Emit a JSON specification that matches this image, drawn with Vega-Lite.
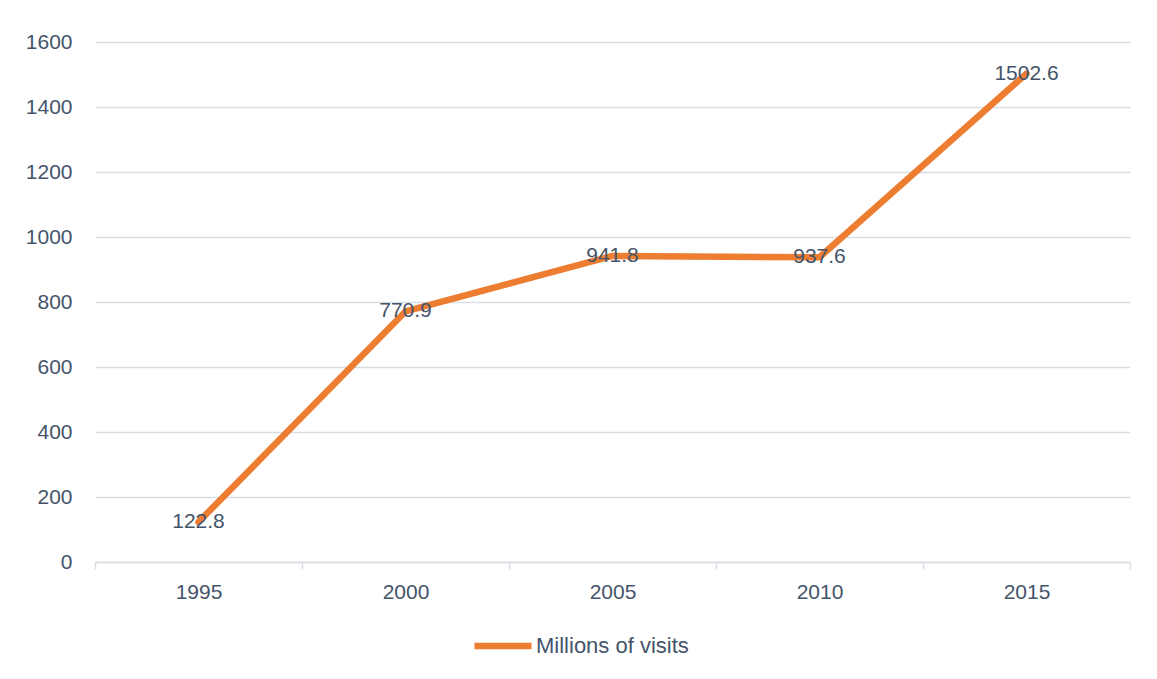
{
  "$schema": "https://vega.github.io/schema/vega-lite/v6.json",
  "width": 1035,
  "height": 520,
  "autosize": {"type": "none"},
  "padding": {"left": 95, "top": 42, "right": 27, "bottom": 117},
  "background": "#ffffff",
  "data": {
    "values": [
      {"year": "1995", "visits": 122.8, "series": "Millions of visits"},
      {"year": "2000", "visits": 770.9, "series": "Millions of visits"},
      {"year": "2005", "visits": 941.8, "series": "Millions of visits"},
      {"year": "2010", "visits": 937.6, "series": "Millions of visits"},
      {"year": "2015", "visits": 1502.6, "series": "Millions of visits"}
    ]
  },
  "config": {
    "view": {"stroke": null},
    "font": "Liberation Sans"
  },
  "encoding": {
    "x": {
      "field": "year",
      "type": "ordinal",
      "scale": {"paddingInner": 0, "paddingOuter": 0},
      "axis": {
        "title": null,
        "labelAngle": 0,
        "labelFontSize": 21,
        "labelColor": "#44546A",
        "labelPadding": 12,
        "tickBand": "extent",
        "ticks": true,
        "tickSize": 7,
        "tickColor": "#D9DEE5",
        "tickWidth": 1.5,
        "domainColor": "#D9DEE5",
        "domainWidth": 1.5,
        "grid": false
      }
    },
    "y": {
      "field": "visits",
      "type": "quantitative",
      "scale": {"domain": [0, 1600], "nice": false},
      "axis": {
        "title": null,
        "values": [0, 200, 400, 600, 800, 1000, 1200, 1400, 1600],
        "format": "d",
        "labelFontSize": 21,
        "labelColor": "#44546A",
        "labelPadding": 23,
        "ticks": false,
        "domain": false,
        "grid": true,
        "gridColor": "#D9DEE5",
        "gridWidth": 1.5
      }
    }
  },
  "layer": [
    {
      "mark": {"type": "line", "strokeWidth": 6.5, "strokeCap": "round", "strokeJoin": "round"},
      "encoding": {
        "color": {
          "field": "series",
          "type": "nominal",
          "scale": {"range": ["#ED7D31"]},
          "legend": {
            "title": null,
            "orient": "none",
            "legendX": 376,
            "legendY": 572,
            "symbolType": "stroke",
            "symbolSize": 3249,
            "symbolStrokeWidth": 6.5,
            "labelFontSize": 22,
            "labelColor": "#44546A",
            "labelOffset": 1,
            "padding": 0
          }
        }
      }
    },
    {
      "mark": {
        "type": "text",
        "align": "center",
        "baseline": "middle",
        "fontSize": 21,
        "color": "#44546A"
      },
      "encoding": {
        "text": {"field": "visits", "type": "quantitative", "format": ".1f"}
      }
    }
  ]
}
